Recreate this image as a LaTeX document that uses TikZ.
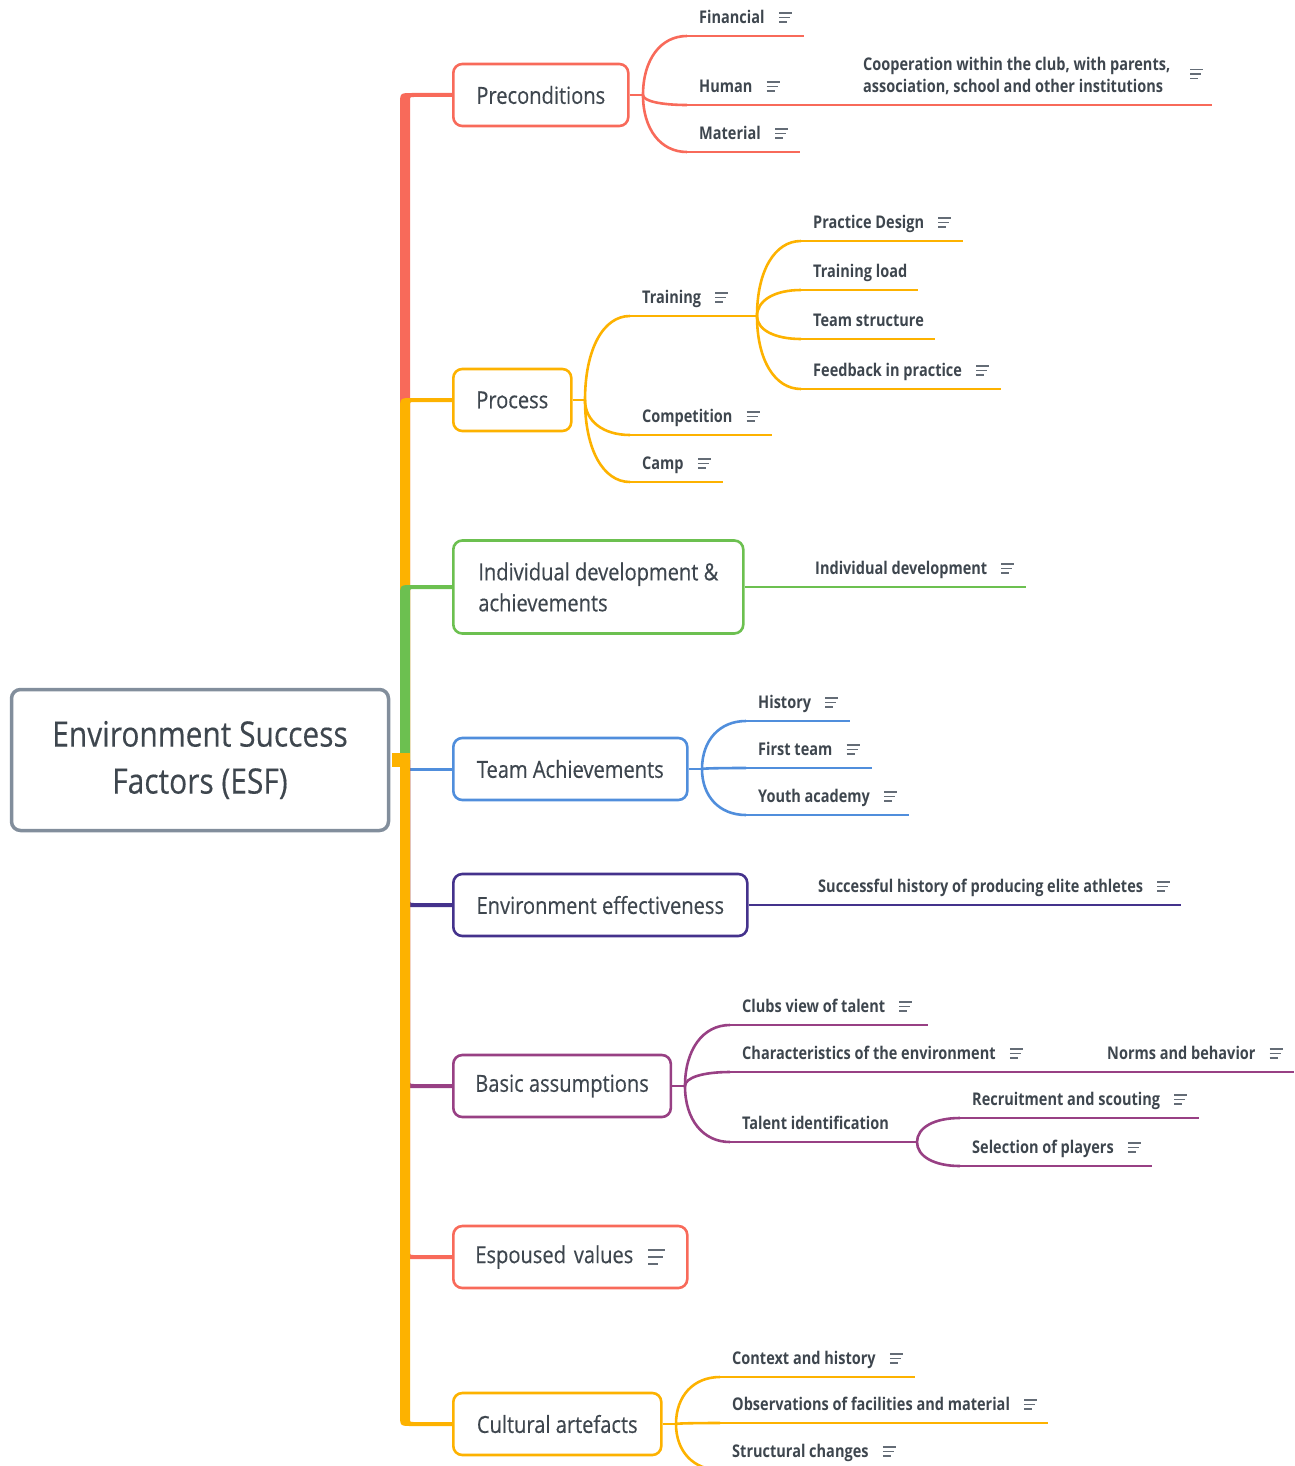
\documentclass[tikz,border=0pt]{standalone}
\usepackage{fontspec}
\setmainfont{Open Sans}[FakeStretch=0.86]
\newfontfamily\boxfont{Open Sans}[FakeStretch=0.855, FakeBold=0.35]
\newfontfamily\lblfont{Open Sans}[FakeStretch=0.83]
\usetikzlibrary{calc}
\definecolor{cRed}{RGB}{248,106,90}
\definecolor{cOra}{RGB}{253,178,0}
\definecolor{cGre}{RGB}{108,192,80}
\definecolor{cBlu}{RGB}{80,142,220}
\definecolor{cDpu}{RGB}{68,50,140}
\definecolor{cPur}{RGB}{152,64,132}
\definecolor{cRoot}{RGB}{130,142,156}
\definecolor{cTxt}{RGB}{62,70,78}
\definecolor{cIco}{RGB}{100,108,118}
\newcommand\noteicon[1]{\draw[ico] ($(#1)+(14,-10.5)$) -- +(13,0) ($(#1)+(14,-6)$) -- +(11,0) ($(#1)+(14,-1.5)$) -- +(8,0);}
\newcommand\mleaf[7]{%
  \coordinate (#1s) at (#3,#4);
  \coordinate (#1e) at (#5,#4);
  \draw[leafline,#2] (#1s) -- (#1e);
  \node[lbl] (#1) at (#3+12,#4-12.5) {#6};
  \ifnum#7=1 \noteicon{#1.base east}\fi}
\newcommand\mcurve[3]{\draw[conn,#1] (#2) .. controls ($(#2)!0.6!(#2 |- #3)$) and ($(#2 |- #3)!0.4!(#3)$) .. (#3);}
\newcommand\spineup[3]{\fill[#1] (400,760) -- (400,#2+10) .. controls (400,#2-2) .. (412,#2-2) -- ($(#3.west)+(0,-2)$) -- ($(#3.west)+(0,2)$) -- (414,#2+2) .. controls (410,#2+2) .. (410,#2+6) -- (410,760) -- cycle;}
\newcommand\spinedown[3]{\fill[#1] (400,760) -- (400,#2-10) .. controls (400,#2+2) .. (412,#2+2) -- ($(#3.west)+(0,2)$) -- ($(#3.west)+(0,-2)$) -- (414,#2-2) .. controls (410,#2-2) .. (410,#2-6) -- (410,760) -- cycle;}
\begin{document}
\begin{tikzpicture}[x=1pt,y=-1pt,
  box/.style={draw, line width=2.6pt, rounded corners=9pt, fill=white, anchor=west, minimum height=62pt, inner xsep=22pt, inner ysep=0pt, text=cTxt, font=\boxfont\fontsize{23.5}{31}\selectfont, align=left},
  lbl/.style={inner sep=0pt, text=cTxt, font=\lblfont\fontsize{17.5}{22}\selectfont\bfseries, anchor=base west},
  leafline/.style={line width=2.6pt},
  conn/.style={line width=2.6pt},
  ico/.style={line width=1.5pt, cIco},
]
\useasboundingbox (0,0) rectangle (1294,1466);
% root and main boxes
\node[draw=cRoot, line width=3.5pt, rounded corners=9pt, minimum width=377pt, minimum height=141pt, align=center, text=cTxt, font=\boxfont\fontsize{35}{47}\selectfont] (root) at (200,760) {Environment Success\\Factors (ESF)};
\node[box,draw=cRed,minimum width=175pt] (pre) at (452,95) {Preconditions};
\node[box,draw=cOra,minimum width=118pt] (proc) at (452,400) {Process};
\node[box,draw=cGre,minimum width=290pt,minimum height=93pt] (ind) at (452,587) {Individual development \&\\achievements};
\node[box,draw=cBlu,minimum width=234pt] (team) at (452,769) {Team Achievements};
\node[box,draw=cDpu,minimum width=294pt] (envE) at (452,905) {Environment effectiveness};
\node[box,draw=cPur,minimum width=217pt] (basic) at (452,1086) {Basic assumptions};
\node[box,draw=cRed,minimum width=234pt,text width=190pt] (esp) at (452,1257) {Espoused values};
\node[box,draw=cOra,minimum width=208pt] (cult) at (452,1424) {Cultural artefacts};
\draw[line width=2pt,cIco] ($(esp.west)+(196,-7)$) -- +(17,0) ($(esp.west)+(196,0)$) -- +(15,0) ($(esp.west)+(196,7)$) -- +(10,0);
% spine
\draw[line width=3pt,cBlu] ($(root.east |- team.west)+(15,0)$) -- (team.west);
\spineup{cRed}{95}{pre}
\spineup{cOra}{400}{proc}
\spineup{cGre}{587}{ind}
\spinedown{cDpu}{905}{envE}
\spinedown{cPur}{1086}{basic}
\spinedown{cRed}{1257}{esp}
\spinedown{cOra}{1424}{cult}
\fill[cOra] ($(root.east)+(1.5,-7)$) rectangle (410,767);
% Preconditions
\coordinate (preB) at (643,95);
\draw[conn,cRed] (pre.east) -- (preB);
\mleaf{fin}{cRed}{687}{36}{804}{Financial}{1}
\mleaf{hum}{cRed}{687}{105}{855}{Human}{1}
\mleaf{mat}{cRed}{687}{152}{800}{Material}{1}
\mcurve{cRed}{preB}{fins}
\mcurve{cRed}{preB}{hums}
\mcurve{cRed}{preB}{mats}
\coordinate (coope) at (1212,105);
\draw[leafline,cRed] (hume) -- (coope);
\node[lbl, anchor=north west, align=left] (coop) at (863,57) {Cooperation within the club, with parents,\\association, school and other institutions};
\coordinate (coopI) at ($(coop.east)+(6,4)$);
\noteicon{coopI}
% Process
\coordinate (procB) at (585,400);
\draw[conn,cOra] (proc.east) -- (procB);
\mleaf{trn}{cOra}{630}{316}{757}{Training}{1}
\mleaf{cmp}{cOra}{630}{435}{772}{Competition}{1}
\mleaf{camp}{cOra}{630}{482}{723}{Camp}{1}
\mcurve{cOra}{procB}{trns}
\mcurve{cOra}{procB}{cmps}
\mcurve{cOra}{procB}{camps}
\mleaf{pd}{cOra}{801}{241}{963}{Practice Design}{1}
\mleaf{tl}{cOra}{801}{290}{918}{Training load}{0}
\mleaf{ts}{cOra}{801}{339}{935}{Team structure}{0}
\mleaf{fb}{cOra}{801}{389}{1001}{Feedback in practice}{1}
\mcurve{cOra}{trne}{pds}
\mcurve{cOra}{trne}{tls}
\mcurve{cOra}{trne}{tss}
\mcurve{cOra}{trne}{fbs}
% Individual
\mleaf{indd}{cGre}{803}{587}{1026}{Individual development}{1}
\draw[conn,cGre] (ind.east) -- (indds);
% Team
\coordinate (teamB) at (702,769);
\draw[conn,cBlu] (team.east) -- (teamB);
\mleaf{his}{cBlu}{746}{721}{850}{History}{1}
\mleaf{ft}{cBlu}{746}{768}{872}{First team}{1}
\mleaf{ya}{cBlu}{746}{815}{909}{Youth academy}{1}
\mcurve{cBlu}{teamB}{hiss}
\mcurve{cBlu}{teamB}{fts}
\mcurve{cBlu}{teamB}{yas}
% Environment effectiveness
\mleaf{succ}{cDpu}{806}{905}{1181}{Successful history of producing elite athletes}{1}
\draw[conn,cDpu] (envE.east) -- (succs);
% Basic assumptions
\coordinate (basB) at (685,1086);
\draw[conn,cPur] (basic.east) -- (basB);
\mleaf{cv}{cPur}{730}{1025}{928}{Clubs view of talent}{1}
\mleaf{ch}{cPur}{730}{1072}{1095}{Characteristics of the environment}{1}
\mleaf{nb}{cPur}{1095}{1072}{1294}{Norms and behavior}{1}
\mleaf{ti}{cPur}{730}{1142}{917}{Talent identification}{0}
\mcurve{cPur}{basB}{cvs}
\mcurve{cPur}{basB}{chs}
\mcurve{cPur}{basB}{tis}
\mleaf{rs}{cPur}{960}{1118}{1199}{Recruitment and scouting}{1}
\mleaf{sp}{cPur}{960}{1166}{1152}{Selection of players}{1}
\mcurve{cPur}{tie}{rss}
\mcurve{cPur}{tie}{sps}
% Cultural artefacts
\coordinate (culB) at (676,1424);
\draw[conn,cOra] (cult.east) -- (culB);
\mleaf{cah}{cOra}{720}{1377}{915}{Context and history}{1}
\mleaf{obs}{cOra}{720}{1423}{1048}{Observations of facilities and material}{1}
\mleaf{sc}{cOra}{720}{1470}{912}{Structural changes}{1}
\mcurve{cOra}{culB}{cahs}
\mcurve{cOra}{culB}{obss}
\mcurve{cOra}{culB}{scs}
\end{tikzpicture}
\end{document}
